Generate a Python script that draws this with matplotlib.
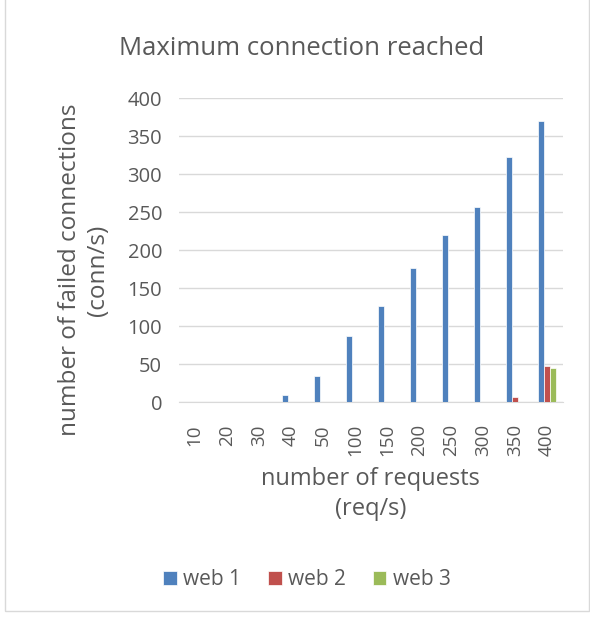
import matplotlib.pyplot as plt
import numpy as np
from matplotlib.patches import Rectangle

categories = ['10', '20', '30', '40', '50', '100', '150', '200', '250', '300', '350', '400']
web1 = [0, 0, 0, 9, 34, 87, 126, 176, 220, 257, 323, 370]
web2 = [0, 0, 0, 0, 0, 0, 0, 0, 0, 0, 6, 48]
web3 = [0, 0, 0, 0, 0, 0, 0, 0, 0, 0, 0, 45]

plt.rcParams['font.family'] = ['Open Sans', 'DejaVu Sans']
text_col = '#595959'
fig = plt.figure(figsize=(5.9, 6.18), dpi=100)
ax = fig.add_axes([0.303, 0.3495, 0.651, 0.4915])

x = np.arange(len(categories))
w = 0.19
ax.bar(x - w, web1, w, color='#4F81BD', edgecolor='white', linewidth=0.5, label='web 1', zorder=3)
ax.bar(x, web2, w, color='#C0504D', edgecolor='white', linewidth=0.5, label='web 2', zorder=3)
ax.bar(x + w, web3, w, color='#9BBB59', edgecolor='white', linewidth=0.5, label='web 3', zorder=3)

ax.set_xlim(-0.5, len(categories) - 0.5)
ax.set_ylim(0, 400)
ax.set_yticks(range(0, 401, 50))
ax.set_xticks(x)
ax.set_xticklabels(categories, rotation=90)
ax.yaxis.grid(True, color='#D9D9D9', linewidth=1, zorder=0)
for s in ['top', 'right', 'left']:
    ax.spines[s].set_visible(False)
ax.spines['bottom'].set_color('#D9D9D9')
ax.tick_params(axis='both', length=0, colors=text_col)
ax.tick_params(axis='y', labelsize=14.5, pad=12)
ax.tick_params(axis='x', labelsize=13.5, pad=16)

ax.set_ylabel('number of failed connections\n(conn/s)', fontsize=17.5, color=text_col, linespacing=1.2)
ax.yaxis.set_label_coords(-0.18, 0.435)
ax.set_xlabel('number of requests\n(req/s)', fontsize=17, color=text_col, linespacing=1.3)
ax.xaxis.set_label_coords(0.5, -0.215)
fig.text(0.511, 0.922, 'Maximum connection reached', ha='center', va='center', fontsize=18.5, color=text_col)

leg = fig.legend(loc='center', bbox_to_anchor=(0.52, 0.062), ncol=3, frameon=False,
                 fontsize=15, handlelength=0.65, handleheight=0.65, handletextpad=0.3, columnspacing=1.3)
for t in leg.get_texts():
    t.set_color(text_col)

fig.patches.append(Rectangle((0.008, 0.012), 0.99, 0.99, transform=fig.transFigure,
                             fill=False, edgecolor='#D9D9D9', linewidth=1))

fig.savefig('out.png', dpi=100)
